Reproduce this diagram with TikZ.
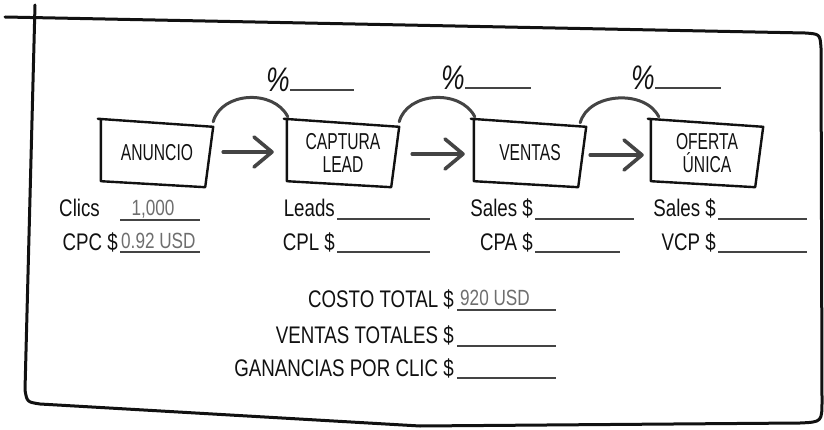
\documentclass[tikz,border=0pt]{standalone}
\usepackage{fontspec}
\setmainfont[FakeStretch=0.78]{Liberation Sans}
\newfontfamily\boxfont[FakeStretch=0.68]{Liberation Sans}
\usetikzlibrary{arrows.meta,calc}
\definecolor{ink}{HTML}{111111}
\definecolor{pen}{HTML}{444444}
\definecolor{val}{HTML}{6E6E6E}
\tikzset{
  funnel/.style={draw=none, minimum width=112pt, minimum height=66pt, align=center,
    font=\boxfont\fontsize{23}{23}\selectfont, text=ink, inner sep=0pt},
  boxline/.style={draw=ink, line width=2.4pt, line join=round, line cap=round},
  flow/.style={draw=pen, line width=3.6pt, line cap=round,
    -{Straight Barb[length=18pt,width=30pt,round]}},
  arcline/.style={draw=pen, line width=3pt, line cap=round},
  lab/.style={font=\fontsize{24}{26}\selectfont, text=ink, inner sep=0pt, anchor=base east},
  value/.style={font=\fontsize{22}{24}\selectfont, text=val, inner sep=0pt, anchor=base},
  pct/.style={font=\fontsize{34}{36}\selectfont\itshape, text=ink, inner sep=0pt, anchor=base east},
  rule/.style={draw=pen, line width=2.6pt},
  frame/.style={draw=ink, line width=3pt, line join=round, line cap=round}
}
\newcommand\sketchbox[1]{%
  \draw[boxline] ($(#1.north west)+(-3,-1)$) -- ($(#1.north east)+(0,7)$)
    -- ($(#1.south east)+(-8,1)$) -- ($(#1.south west)+(0,-5)$)
    -- ($(#1.north west)+(0,-1)$);}
\begin{document}
\begin{tikzpicture}[x=1pt,y=-1pt]
\useasboundingbox (0,0) rectangle (824,430);
% frame
\draw[frame] (5,17) -- (805,33) .. controls (820,34) .. (821,48) -- (822,400)
  .. controls (822,422) .. (800,423) -- (420,426) -- (40,404)
  .. controls (27,402) .. (25,390) -- (35,5);
% funnel boxes
\node[funnel] (b1) at (157,153) {ANUNCIO};
\node[funnel] (b2) at (343,153) {CAPTURA\\LEAD};
\node[funnel] (b3) at (530,153) {VENTAS};
\node[funnel] (b4) at (707,153) {OFERTA\\ÚNICA};
\sketchbox{b1}\sketchbox{b2}\sketchbox{b3}\sketchbox{b4}
% arrows
\draw[flow] ($(b1.east)+(10,-1)$) -- ($(b2.west)+(-13,-1)$);
\draw[flow] ($(b2.east)+(13,1)$) -- ($(b3.west)+(-9,1)$);
\draw[flow] ($(b3.east)+(4,2)$) -- ($(b4.west)+(-7,2)$);
% arcs
\draw[arcline] ($(b1.north east)+(0,2)$) .. controls +(8,-30) and +(-14,-28) .. ($(b2.north west)+(1,-3)$);
\draw[arcline] ($(b2.north east)+(0,2)$) .. controls +(8,-30) and +(-14,-28) .. ($(b3.north west)+(1,-3)$);
\draw[arcline] ($(b3.north east)+(-6,3)$) .. controls +(8,-30) and +(-14,-28) .. ($(b4.north west)+(8,-3)$);
% percent labels
\node[pct] (p1) at (290,92) {\%};
\node[pct] (p2) at (465,90) {\%};
\node[pct] (p3) at (655,90) {\%};
\draw[rule] ($(p1.base east)+(0,-2)$) -- ++(64,0);
\draw[rule] ($(p2.base east)+(0,-2)$) -- ++(66,0);
\draw[rule] ($(p3.base east)+(0,-2)$) -- ++(66,0);
% metrics
\node[lab] (clics) at (100,217) {Clics};
\node[value] (v1) at (153,216) {1,000};
\draw[rule] ($(clics.base east)+(20,3)$) -- ++(80,0);
\node[lab] (cpc) at (118,251) {CPC \$};
\node[value, anchor=base west] (v2) at (121,249) {0.92 USD};
\draw[rule] ($(cpc.base east)+(2,1)$) -- ++(80,0);
\node[lab] (leads) at (335,217) {Leads};
\draw[rule] ($(leads.base east)+(2,2)$) -- ++(93,0);
\node[lab] (cpl) at (335,251) {CPL \$};
\draw[rule] ($(cpl.base east)+(2,1)$) -- ++(93,0);
\node[lab] (sales1) at (533,217) {Sales \$};
\draw[rule] ($(sales1.base east)+(2,2)$) -- ++(99,0);
\node[lab] (cpa) at (533,251) {CPA \$};
\draw[rule] ($(cpa.base east)+(2,1)$) -- ++(85,0);
\node[lab] (sales2) at (716,217) {Sales \$};
\draw[rule] ($(sales2.base east)+(2,2)$) -- ++(89,0);
\node[lab] (vcp) at (716,251) {VCP \$};
\draw[rule] ($(vcp.base east)+(2,1)$) -- ++(89,0);
% totals
\node[lab] (costo) at (454,307) {COSTO TOTAL \$};
\node[value, anchor=base west] (v3) at (460,305) {920 USD};
\draw[rule] ($(costo.base east)+(3,3)$) -- ++(99,0);
\node[lab] (ventot) at (454,343) {VENTAS TOTALES \$};
\draw[rule] ($(ventot.base east)+(3,3)$) -- ++(99,0);
\node[lab] (gan) at (454,376) {GANANCIAS POR CLIC \$};
\draw[rule] ($(gan.base east)+(3,2)$) -- ++(99,0);
\end{tikzpicture}
\end{document}
